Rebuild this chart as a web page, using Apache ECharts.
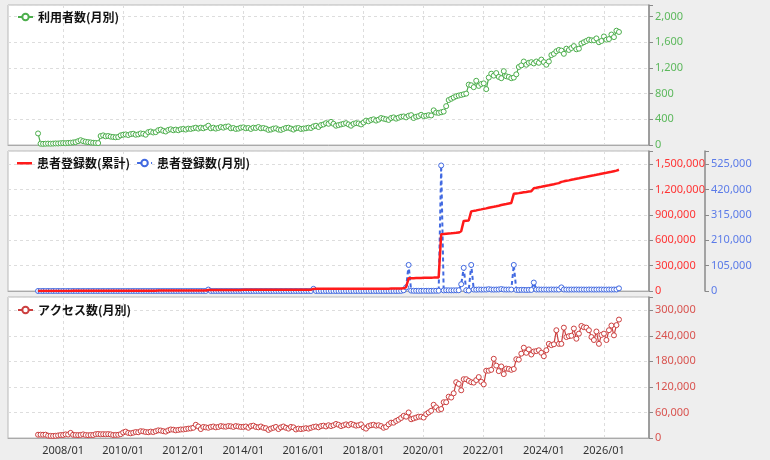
<!DOCTYPE html>
<html><head><meta charset="utf-8">
<script src="https://cdn.jsdelivr.net/npm/echarts@6/dist/echarts.min.js"></script>
<style>html,body{margin:0;padding:0;background:#eeeeee;}#c{width:770px;height:460px;}</style>
</head><body><div id="c"></div>
<script>
// monthly data from 2007/03 to 2026/07
const firstMonth = '2007/03';

const users = [
  180,20,18,20,22,20,22,25,24,28,
  30,28,32,35,40,45,60,75,60,50,45,40,
  35,32,30,140,150,135,140,130,125,120,125,150,
  160,165,155,170,175,160,165,180,175,160,200,210,
  195,200,230,240,220,210,235,245,230,240,230,245,
  250,240,255,250,260,270,255,270,260,275,300,260,
  270,255,265,280,270,285,290,260,265,250,255,270,
  275,260,265,250,270,265,280,260,265,255,235,240,
  255,260,240,235,250,265,270,255,240,260,265,250,
  255,260,270,265,290,300,280,310,320,340,330,360,
  330,300,310,320,330,340,320,300,330,340,335,320,
  350,380,370,390,400,380,395,420,410,400,390,420,
  430,410,425,440,445,430,455,465,420,440,450,470,
  450,455,465,460,540,505,500,510,520,605,700,720,
  740,760,770,780,790,800,940,930,900,1000,920,950,
  960,870,1050,1110,1080,1120,1060,1040,1150,1070,1060,1040,
  1050,1100,1215,1240,1300,1250,1280,1290,1270,1300,1280,1330,
  1290,1250,1300,1400,1420,1460,1480,1470,1420,1500,1480,1510,
  1540,1490,1500,1580,1600,1620,1640,1630,1630,1660,1600,1620,
  1690,1640,1650,1720,1680,1780,1760
];

const patientsTotal = [
  100,200,300,400,500,600,700,800,900,1000,
  1100,1200,1300,1400,1500,1600,1700,1800,1900,2000,2100,2200,
  2300,2400,2450,2550,2650,2700,2800,2900,3000,3100,3150,3250,
  3300,3400,3500,3550,3650,3750,3800,3900,4000,4100,4150,4250,
  4300,4400,4500,4550,4650,4750,4800,4900,5000,5050,5150,5250,
  5300,5400,5450,5550,5650,5700,5800,5900,5950,6050,12000,12100,
  12200,12300,12400,12500,12600,12700,12800,12900,13000,13100,13200,13300,
  13400,13500,13600,13700,13800,13900,14000,14100,14200,14300,14400,14500,
  14600,14700,14800,14900,15000,15100,15200,15300,15400,15500,15600,15700,
  15800,15900,16000,16100,25100,25200,25300,25400,25500,25600,25700,25800,
  25900,26000,26100,26200,26300,26400,26500,26600,26700,26800,26900,27000,
  27100,27200,27300,27400,27500,27600,27700,27800,27900,28000,28100,28200,
  28300,28400,28500,29000,32000,47000,150000,151500,152300,153200,153900,154700,
  155600,156400,157100,157900,158800,159800,161000,672000,674500,677500,680300,682900,
  685600,688500,691500,707000,829500,832500,834500,942500,948500,954000,960200,966000,
  972000,977900,985400,991500,997300,1003300,1009600,1017600,1023800,1029700,1035800,1041800,
  1149800,1154300,1158500,1163300,1167900,1172200,1176900,1181300,1216300,1222300,1228500,1234400,
  1240500,1246500,1252300,1258600,1264600,1270700,1276600,1291600,1297800,1303800,1309600,1315700,
  1321700,1327900,1333800,1339900,1345900,1351700,1357900,1364000,1369900,1375900,1382000,1388200,
  1394200,1400100,1406200,1412200,1418400,1424500,1435500
];

const patientsMonthly = [
  100,100,100,100,100,100,100,100,100,100,
  100,100,100,100,100,100,100,100,100,100,100,100,
  100,100,50,100,100,50,100,100,100,100,50,100,
  50,100,100,50,100,100,50,100,100,100,50,100,
  50,100,100,50,100,100,50,100,100,50,100,100,
  50,100,50,100,100,50,100,100,50,100,6000,100,
  100,100,100,100,100,100,100,100,100,100,100,100,
  100,100,100,100,100,100,100,100,100,100,100,100,
  100,100,100,100,100,100,100,100,100,100,100,100,
  100,100,100,100,9000,100,100,100,100,100,100,100,
  100,100,100,100,100,100,100,100,100,100,100,100,
  100,100,100,100,100,100,100,100,100,100,100,100,
  100,100,100,500,3000,15000,108000,1500,800,900,700,800,
  900,800,700,800,900,1000,1200,520000,2500,3000,2800,2600,
  2700,2900,3000,28000,96000,3000,2000,108000,6000,5500,6200,5800,
  6000,5900,7500,6100,5800,6000,6300,8000,6200,5900,6100,6000,
  108000,4500,4200,4800,4600,4300,4700,4400,35000,6000,6200,5900,
  6100,6000,5800,6300,6000,6100,5900,15000,6200,6000,5800,6100,
  6000,6200,5900,6100,6000,5800,6200,6100,5900,6000,6100,6200,
  6000,5900,6100,6000,6200,6100,11000
];

const access = [
  7700,7800,7600,7800,5500,5000,4800,5200,6000,7000,
  7000,8500,8000,12000,7500,7000,6800,7200,8500,7000,6500,7000,
  7000,9000,9500,8800,9000,8800,9200,8500,7000,7200,7500,9000,
  13000,15000,12000,11000,12500,14000,13500,16000,15500,14000,13500,15000,
  14000,16000,18000,17500,16000,15000,18000,20000,19500,18000,19000,20000,
  20000,21000,22000,22500,24000,31000,27000,21000,26000,25000,24000,26000,
  27000,25000,26000,28000,27000,26500,28000,27500,26000,28000,27000,26000,
  26000,27000,24000,28000,29000,26000,25000,27000,24000,23000,19000,22000,
  24000,26000,21000,25000,27000,24000,22000,26000,25000,20000,22000,21000,
  22000,23000,22000,24000,26000,27000,25000,28000,29000,27000,30000,28000,
  30000,33000,31000,28000,30000,32000,30000,33000,31000,29000,30000,32000,
  25000,22000,28000,30000,31000,29000,30000,28000,24000,26000,32000,36000,
  36000,40000,43000,47000,52000,50000,60000,44000,46000,48000,50000,50000,
  48000,56000,60000,64000,78000,72000,66000,68000,84000,84000,97000,95000,
  105000,131000,127000,112000,138000,138000,134000,131000,130000,136000,143000,132000,
  126000,158000,158000,160000,186000,170000,157000,168000,150000,163000,162000,160000,
  162000,185000,184000,198000,212000,200000,208000,196000,203000,204000,206000,200000,
  192000,206000,221000,218000,220000,253000,221000,221000,259000,237000,239000,240000,
  257000,233000,245000,263000,260000,259000,253000,237000,230000,250000,221000,242000,
  245000,230000,253000,264000,241000,265000,278000
];

// x axis months 2006/03 .. 2027/07
const categories = [];
for (let y = 2006, m = 3; y < 2027 || (y === 2027 && m <= 7);) {
  categories.push(y + '/' + String(m).padStart(2, '0'));
  m++; if (m > 12) { m = 1; y++; }
}
const offset = categories.indexOf(firstMonth);
function place(vals) {
  const a = new Array(categories.length).fill(null);
  vals.forEach((v, i) => { a[offset + i] = v; });
  return a;
}
const isMark = (idx, val) => { const v = categories[idx]; return v.endsWith('/01') && (+v.slice(0, 4)) % 2 === 0; };
const fmt = (step) => (v) => (v % step === 0 ? v.toLocaleString('en-US') : '');

const FONT = 'Noto Sans';
const CJK = 'Noto Sans CJK JP';
const gridCommon = { left: 8, right: 121, show: true, backgroundColor: '#ffffff', borderColor: '#b8b8b8', borderWidth: 1, containLabel: false, outerBoundsMode: 'none' };
function xAx(i, showLabel) {
  return {
    type: 'category', gridIndex: i, data: categories, boundaryGap: false,
    axisLine: { show: true, lineStyle: { color: '#aaaaaa', width: 1 } },
    axisTick: { show: false },
    axisLabel: { show: showLabel, interval: isMark, color: '#333333', fontSize: 11, fontFamily: FONT, margin: 7 },
    splitLine: { show: true, interval: isMark, lineStyle: { color: '#dddddd', type: [3, 3] } }
  };
}
function yAx(grid, max, step, color, extra) {
  return Object.assign({
    type: 'value', gridIndex: grid, position: 'right', min: 0, max: max, interval: step,
    axisLine: { show: true, lineStyle: { color: '#8a8a8a', width: 1.5 } },
    axisTick: { show: true, length: 4, lineStyle: { color: '#8a8a8a' } },
    axisLabel: { color: color, fontSize: 11, fontFamily: FONT, margin: 6, formatter: fmt(step) },
    splitLine: { show: true, lineStyle: { color: '#dddddd', type: [3, 3] } }
  }, extra || {});
}
const legendText = { fontSize: 12, fontWeight: 'bold', color: '#111111', fontFamily: CJK };
const plainLineIcon = 'path://M0,0 M15,8 M0,3 L15,3 L15,5.5 L0,5.5 Z';
const ring = (c) => ({ color: '#ffffff', borderColor: c, borderWidth: 1 });

const chart = echarts.init(document.getElementById('c'), null, { renderer: 'canvas' });
chart.setOption({
  animation: false,
  backgroundColor: '#eeeeee',
  grid: [
    Object.assign({ top: 5, height: 140 }, gridCommon),
    Object.assign({ top: 151, height: 140 }, gridCommon),
    Object.assign({ top: 297, height: 141 }, gridCommon)
  ],
  legend: [
    { data: ['利用者数(月別)'], left: 12, top: 6, itemWidth: 15, itemHeight: 8, itemGap: 6, textStyle: legendText },
    { data: [{ name: '患者登録数(累計)', icon: plainLineIcon, itemStyle: { color: '#ff1a1a' } }, '患者登録数(月別)'], left: 12, top: 152, itemWidth: 15, itemHeight: 8, itemGap: 6, textStyle: legendText },
    { data: ['アクセス数(月別)'], left: 12, top: 299, itemWidth: 15, itemHeight: 8, itemGap: 6, textStyle: legendText }
  ],
  xAxis: [xAx(0, false), xAx(1, false), xAx(2, true)],
  yAxis: [
    yAx(0, 2180, 400, '#5cb85c'),
    yAx(1, 1657000, 300000, '#ff3333'),
    yAx(1, 580000, 105000, '#5b7be8', { offset: 56, splitLine: { show: false } }),
    yAx(2, 331000, 60000, '#d9534f')
  ],
  series: [
    {
      name: '利用者数(月別)', type: 'line', xAxisIndex: 0, yAxisIndex: 0, data: place(users),
      symbol: 'circle', symbolSize: 5, showAllSymbol: true,
      itemStyle: ring('#4cae4c'), lineStyle: { width: 1.2, color: '#4cae4c' }
    },
    {
      name: '患者登録数(月別)', type: 'line', xAxisIndex: 1, yAxisIndex: 2, data: place(patientsMonthly), z: 2,
      symbol: 'circle', symbolSize: 5, showAllSymbol: true,
      itemStyle: ring('#4169e1'), lineStyle: { width: 2, color: '#4169e1', type: [4, 3] }
    },
    {
      name: '患者登録数(累計)', type: 'line', xAxisIndex: 1, yAxisIndex: 1, data: place(patientsTotal), z: 3,
      symbol: 'none', itemStyle: { color: '#ff1a1a' }, lineStyle: { width: 2.5, color: '#ff1a1a' }
    },
    {
      name: 'アクセス数(月別)', type: 'line', xAxisIndex: 2, yAxisIndex: 3, data: place(access),
      symbol: 'circle', symbolSize: 5, showAllSymbol: true,
      itemStyle: ring('#cc3f3f'), lineStyle: { width: 1.2, color: '#cc3f3f' }
    }
  ]
});
</script>
</body></html>
